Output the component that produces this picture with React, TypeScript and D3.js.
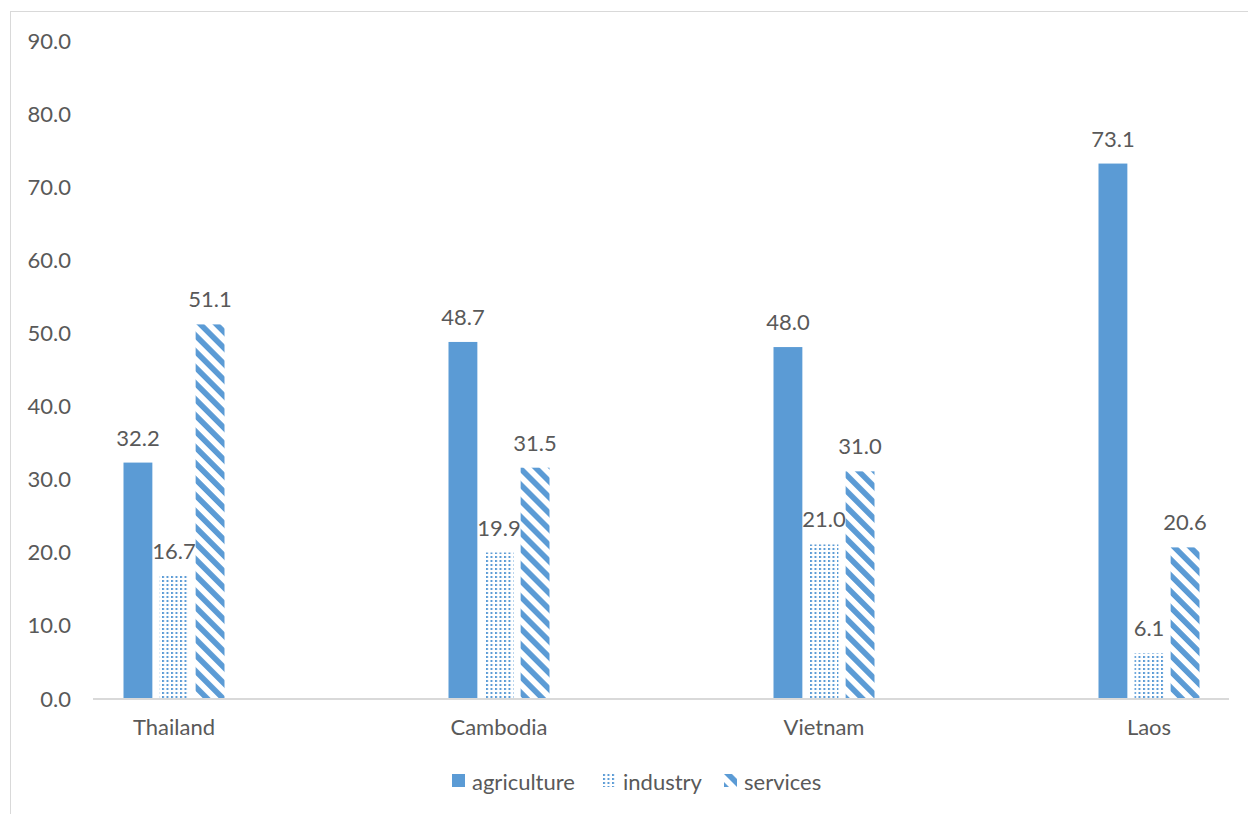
import React from "react";
import * as d3 from "d3";

const countries = ["Thailand", "Cambodia", "Vietnam", "Laos"];
const seriesNames = ["agriculture", "industry", "services"];
const agriculture = [32.2, 48.7, 48.0, 73.1];
const industry = [16.7, 19.9, 21.0, 6.1];
const services = [51.1, 31.5, 31.0, 20.6];
const yTicks = [0, 10, 20, 30, 40, 50, 60, 70, 80, 90];

const BLUE = "#5B9BD5";
const TEXT = "#595959";
const FONT = "Lato, 'Liberation Sans', sans-serif";
const FS = 22;

export default function App() {
  const width = 1248;
  const height = 814;

  const seriesValues = [agriculture, industry, services];
  const fills = [BLUE, "url(#dots)", "url(#stripes)"];

  const x = d3.scalePoint<string>().domain(countries).range([174, 1149]);
  const xs = d3.scaleBand<string>().domain(seriesNames).range([-50.5, 50.5]).paddingInner(0.2);
  const y = d3.scaleLinear().domain([0, 90]).range([698, 40]);

  const legendX = [452, 603, 724];

  return (
    <svg
      width={width}
      height={height}
      style={{ position: "absolute", left: 0, top: 0, background: "#fff" }}
      fontFamily={FONT}
    >
      <defs>
        <pattern id="dots" patternUnits="userSpaceOnUse" width={4.5} height={4}>
          <rect x={0} y={0} width={2} height={2} fill={BLUE} />
        </pattern>
        <pattern
          id="stripes"
          patternUnits="userSpaceOnUse"
          width={11.3}
          height={11.3}
          patternTransform="rotate(-45)"
        >
          <rect x={0} y={0} width={5.6} height={11.3} fill={BLUE} />
        </pattern>
      </defs>

      {/* chart area border */}
      <rect x={10.5} y={11.5} width={width + 10} height={height + 10} fill="none" stroke="#d9d9d9" strokeWidth={1} />

      {/* y tick labels */}
      {yTicks.map(t => (
        <text
          key={t}
          x={71}
          y={y(t)}
          textAnchor="end"
          dominantBaseline="central"
          fontSize={FS}
          fill={TEXT}
        >
          {t.toFixed(1)}
        </text>
      ))}

      {/* bars */}
      {seriesNames.map((s, si) => (
        <g key={s}>
          {countries.map((c, ci) => {
            const v = seriesValues[si][ci];
            const bx = (x(c) as number) + (xs(s) as number);
            return (
              <g key={c}>
                <rect
                  x={bx}
                  y={y(v)}
                  width={xs.bandwidth()}
                  height={y(0) - y(v)}
                  fill={fills[si]}
                />
                <text
                  x={bx + xs.bandwidth() / 2}
                  y={y(v) - 17}
                  textAnchor="middle"
                  fontSize={FS}
                  fill={TEXT}
                >
                  {v.toFixed(1)}
                </text>
              </g>
            );
          })}
        </g>
      ))}

      {/* category axis */}
      <line x1={93} x2={1229} y1={y(0) + 1} y2={y(0) + 1} stroke="#d9d9d9" strokeWidth={2} />
      {countries.map(c => (
        <text key={c} x={x(c)} y={735} textAnchor="middle" fontSize={FS} fill={TEXT}>
          {c}
        </text>
      ))}

      {/* legend */}
      {seriesNames.map((s, si) => (
        <g key={s} transform={`translate(${legendX[si]},774)`}>
          <rect x={0} y={0} width={13} height={13} fill={fills[si]} />
          <text x={20} y={7} dominantBaseline="central" fontSize={FS} fill={TEXT}>
            {s}
          </text>
        </g>
      ))}
    </svg>
  );
}
